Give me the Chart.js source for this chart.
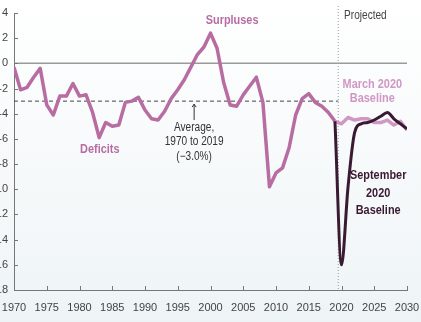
<!DOCTYPE html>
<html>
<head>
<meta charset="utf-8">
<script src="https://cdn.jsdelivr.net/npm/chart.js@4/dist/chart.umd.min.js"></script>
<style>
  html, body { margin: 0; padding: 0; }
  body {
    width: 421px; height: 322px; overflow: hidden; position: relative;
    background: linear-gradient(to bottom, #ffffff 0%, #f6f9fa 55%, #eef4f6 100%);
  }
  #wrap { position: absolute; left: -12px; top: 0; width: 433px; height: 322px; }
</style>
</head>
<body>
<div id="wrap"><canvas id="graficoDeficit" width="433" height="322"></canvas></div>
<script>
// Anos (1970-2030) e déficit/superávit como % do PIB
const anos = [1970, 1971, 1972, 1973, 1974, 1975, 1976, 1977, 1978, 1979,
  1980, 1981, 1982, 1983, 1984, 1985, 1986, 1987, 1988, 1989,
  1990, 1991, 1992, 1993, 1994, 1995, 1996, 1997, 1998, 1999,
  2000, 2001, 2002, 2003, 2004, 2005, 2006, 2007, 2008, 2009,
  2010, 2011, 2012, 2013, 2014, 2015, 2016, 2017, 2018, 2019,
  2020, 2021, 2022, 2023, 2024, 2025, 2026, 2027, 2028, 2029, 2030];

// histórico até 2019 + projeção de março 2020
const valoresMarco = [-0.3, -2.1, -1.9, -1.1, -0.4, -3.3, -4.1, -2.6, -2.6, -1.6,
  -2.6, -2.5, -3.9, -5.9, -4.7, -5.0, -4.9, -3.1, -3.0, -2.7,
  -3.7, -4.4, -4.5, -3.8, -2.8, -2.1, -1.3, -0.3, 0.7, 1.3,
  2.4, 1.2, -1.5, -3.3, -3.4, -2.5, -1.8, -1.1, -3.1, -9.8,
  -8.7, -8.3, -6.7, -4.1, -2.8, -2.4, -3.1, -3.4, -3.9, -4.6,
  -4.8, -4.3, -4.5, -4.4, -4.4, -4.7, -4.7, -4.5, -4.9, -4.6, -5.3];

// projeção de setembro 2020
const anosSetembro = [2019, 2020, 2021, 2022, 2023, 2024, 2025, 2026, 2027, 2028, 2029, 2030];
const valoresSetembro = [-4.6, -16.0, -9.8, -5.5, -4.8, -4.7, -4.5, -4.2, -3.9, -4.4, -4.8, -5.2];

const mediaDeficit = -3.0;     // média 1970 a 2019
const inicioProjecao = 2019.5;
const anosTicks = [1970, 1975, 1980, 1985, 1990, 1995, 2000, 2005, 2010, 2015, 2020, 2025, 2030];

const ROSA = '#b86da2';
const ROSA_CLARO = '#d197c4';
const ROXO = '#3a1a32';
const fonte = '"Liberation Sans", Arial, sans-serif';
const ESTREITO = 0.84; // fonte "condensada" via escala horizontal

// linhas de referência, marcas internas e textos
const extras = {
  id: 'extras',
  beforeDatasetsDraw(chart) {
    const { ctx, chartArea, scales: { x, y } } = chart;
    ctx.save();
    // linha do zero
    ctx.strokeStyle = '#9a9a9a';
    ctx.lineWidth = 1.5;
    ctx.beginPath();
    ctx.moveTo(x.getPixelForValue(1970), y.getPixelForValue(0));
    ctx.lineTo(x.getPixelForValue(2030), y.getPixelForValue(0));
    ctx.stroke();
    // média
    ctx.strokeStyle = '#444';
    ctx.lineWidth = 1;
    ctx.setLineDash([4, 3]);
    ctx.beginPath();
    ctx.moveTo(x.getPixelForValue(1970), y.getPixelForValue(mediaDeficit));
    ctx.lineTo(x.getPixelForValue(inicioProjecao), y.getPixelForValue(mediaDeficit));
    ctx.stroke();
    // início da projeção
    ctx.strokeStyle = '#9a9a9a';
    ctx.setLineDash([1, 2]);
    const px = x.getPixelForValue(inicioProjecao);
    ctx.beginPath();
    ctx.moveTo(px, chartArea.top - 7);
    ctx.lineTo(px, chartArea.bottom);
    ctx.stroke();
    ctx.restore();
  },
  afterDraw(chart) {
    const { ctx, chartArea, scales: { x, y } } = chart;
    ctx.save();
    // marcas dos eixos para dentro
    ctx.strokeStyle = '#777';
    ctx.lineWidth = 1;
    y.ticks.forEach(t => {
      const py = Math.round(y.getPixelForValue(t.value)) + 0.5;
      ctx.beginPath();
      ctx.moveTo(chartArea.left, py);
      ctx.lineTo(chartArea.left + 4, py);
      ctx.stroke();
    });
    x.ticks.forEach(t => {
      const px = Math.round(x.getPixelForValue(t.value)) + 0.5;
      ctx.beginPath();
      ctx.moveTo(px, chartArea.bottom);
      ctx.lineTo(px, chartArea.bottom - 4);
      ctx.stroke();
    });

    const texto = (linhas, ano, valor, cor, negrito, tam, passo, alinhar) => {
      ctx.fillStyle = cor;
      ctx.font = (negrito ? 'bold ' : '') + tam + 'px ' + fonte;
      ctx.textAlign = alinhar || 'center';
      ctx.textBaseline = 'middle';
      linhas.forEach((l, i) => {
        ctx.save();
        ctx.translate(x.getPixelForValue(ano), y.getPixelForValue(valor) + i * passo);
        ctx.scale(ESTREITO, 1);
        ctx.fillText(l, 0, 0);
        ctx.restore();
      });
    };
    texto(['Surpluses'], 2003.3, 3.4, ROSA, true, 13, 0);
    texto(['Deficits'], 1983.1, -6.8, ROSA, true, 13, 0);
    texto(['Average,', '1970 to 2019', '(\u22123.0%)'], 1997.5, -5.1, '#333', false, 12, 14.5);
    texto(['March 2020', 'Baseline'], 2024.7, -1.7, ROSA_CLARO, true, 13, 14);
    texto(['September', '2020', 'Baseline'], 2025.6, -8.9, ROXO, true, 13, 17.5);
    texto(['Projected'], inicioProjecao + 0.9, 3.75, '#444', false, 12, 0, 'left');

    // seta da média
    const ax = x.getPixelForValue(1997.5);
    const a1 = y.getPixelForValue(mediaDeficit) + 3;
    const a2 = y.getPixelForValue(-4.5);
    ctx.strokeStyle = '#333';
    ctx.lineWidth = 1;
    ctx.beginPath();
    ctx.moveTo(ax, a2);
    ctx.lineTo(ax, a1);
    ctx.stroke();
    ctx.beginPath();
    ctx.moveTo(ax - 2, a1 + 3);
    ctx.lineTo(ax, a1);
    ctx.lineTo(ax + 2, a1 + 3);
    ctx.stroke();
    ctx.restore();
  }
};

const ctxDeficit = document.getElementById('graficoDeficit').getContext('2d');
new Chart(ctxDeficit, {
  type: 'line',
  data: {
    datasets: [{
      label: 'September 2020 Baseline',
      data: anosSetembro.map((a, i) => ({ x: a, y: valoresSetembro[i] })),
      borderColor: ROXO,
      borderWidth: 3,
      pointRadius: 0,
      cubicInterpolationMode: 'monotone',
      order: 0
    }, {
      label: 'March 2020 Baseline',
      data: anos.map((a, i) => ({ x: a, y: valoresMarco[i] })),
      borderColor: ROSA,
      borderWidth: 3.5,
      pointRadius: 0,
      tension: 0,
      borderJoinStyle: 'round',
      segment: {
        borderColor: c => c.p0.parsed.x >= 2019 ? ROSA_CLARO : ROSA
      },
      order: 1
    }]
  },
  plugins: [extras],
  options: {
    responsive: false,
    animation: false,
    devicePixelRatio: 1,
    layout: { padding: { top: 13, right: 14, left: 0, bottom: 0 } },
    plugins: {
      legend: { display: false },
      tooltip: { enabled: false }
    },
    scales: {
      x: {
        type: 'linear',
        min: 1970,
        max: 2030,
        afterBuildTicks: s => { s.ticks = anosTicks.map(v => ({ value: v })); },
        ticks: {
          callback: v => String(v),
          color: '#444',
          font: { family: fonte, size: 11 },
          padding: 11,
          maxRotation: 0,
          autoSkip: false
        },
        grid: { drawOnChartArea: false, drawTicks: false },
        border: { color: '#777', width: 1 },
        afterFit: s => { s.height = 32; s.paddingRight = 0; s.paddingLeft = 0; }
      },
      y: {
        min: -18,
        max: 4,
        ticks: {
          stepSize: 2,
          callback: v => (v < 0 ? '-' + Math.abs(v) : String(v)),
          color: '#444',
          font: { family: fonte, size: 11 },
          padding: 6
        },
        grid: { drawOnChartArea: false, drawTicks: false },
        border: { color: '#777', width: 1 },
        afterFit: s => { s.width = 26; s.paddingTop = 0; s.paddingBottom = 0; }
      }
    }
  }
});
</script>
</body>
</html>
